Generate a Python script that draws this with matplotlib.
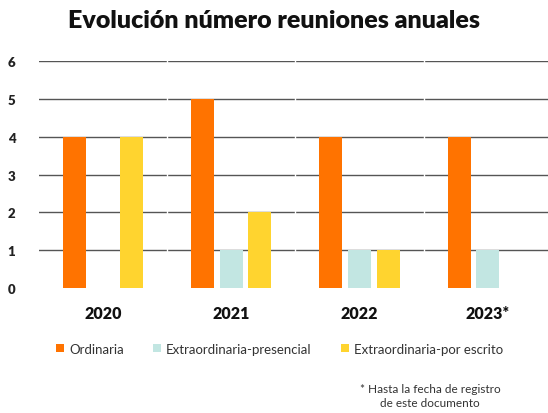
import matplotlib
matplotlib.use('Agg')
import matplotlib.pyplot as plt
import numpy as np
from matplotlib.patches import Patch

plt.rcParams['font.family'] = ['Lato', 'DejaVu Sans']

# Data
years = ['2020', '2021', '2022', '2023*']
ordinaria = [4, 5, 4, 4]
presencial = [0, 1, 1, 1]
escrito = [4, 2, 1, 0]
series_names = ['Ordinaria', 'Extraordinaria-presencial', 'Extraordinaria-por escrito']
colors = ['#FF7300', '#C2E6E2', '#FFD42F']

fig = plt.figure(figsize=(5.48, 4.14), dpi=100)
ax = fig.add_axes([0.0712, 0.302, 0.9288, 0.548])

x = np.arange(len(years))
step = 0.223
w = 0.18
for i, (vals, c) in enumerate(zip([ordinaria, presencial, escrito], colors)):
    ax.bar(x + (i - 1) * step, vals, width=w, color=c, zorder=3)

ax.set_xlim(-0.5, 3.47)
ax.set_ylim(0, 6)
ax.set_yticks(range(0, 7))
ax.yaxis.grid(True, color='#555555', linewidth=1.0, zorder=1)
ax.get_ygridlines()[0].set_visible(False)  # no line at zero
# tiny breaks in the gridlines between categories
for b in [0.5, 1.5, 2.5]:
    ax.axvline(b, ymin=0.1, color='white', linewidth=1.0, zorder=2)
for s in ax.spines.values():
    s.set_visible(False)
ax.tick_params(axis='both', length=0)
ax.tick_params(axis='y', pad=17)
ax.tick_params(axis='x', pad=12)
ax.set_xticks(x)
ax.set_xticklabels(years, fontsize=11.5, fontweight='heavy', color='#111111')
for lbl in ax.get_yticklabels():
    lbl.set_fontsize(9.5)
    lbl.set_fontweight('heavy')
    lbl.set_color('#222222')

fig.text(0.5, 0.95, 'Evolución número reuniones anuales', ha='center', va='center',
         fontsize=18, fontweight='heavy', color='#111111')

handles = [Patch(facecolor=c, edgecolor='none') for c in colors]
fig.legend(handles, series_names, loc='center', bbox_to_anchor=(0.51, 0.155), ncol=3,
           frameon=False, fontsize=9.5, handlelength=0.6, handleheight=0.6,
           handletextpad=0.4, columnspacing=2.2, labelcolor='#333333')

fig.text(0.785, 0.042, '* Hasta la fecha de registro\nde este documento', ha='center',
         va='center', fontsize=8.5, color='#333333', linespacing=1.3)

fig.savefig('out.png', dpi=100)
